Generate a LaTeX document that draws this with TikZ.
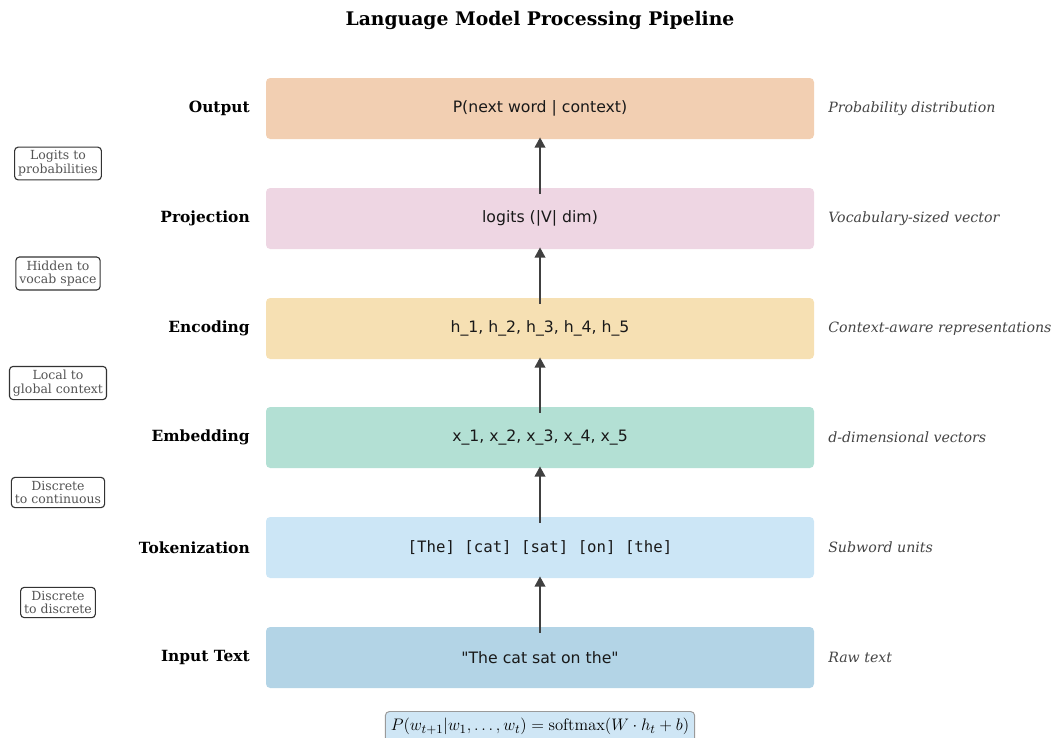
\documentclass[tikz,border=0pt]{standalone}
\usepackage[no-math]{fontspec}
\setmainfont{DejaVu Serif}
\setsansfont{DejaVu Sans}
\setmonofont{DejaVu Sans Mono}
\usetikzlibrary{arrows.meta,calc}

\definecolor{cOut}{HTML}{F2CFB2}
\definecolor{cProj}{HTML}{EED6E3}
\definecolor{cEnc}{HTML}{F6E0B3}
\definecolor{cEmb}{HTML}{B3E0D4}
\definecolor{cTok}{HTML}{CCE6F6}
\definecolor{cIn}{HTML}{B3D4E6}
\definecolor{cArrow}{HTML}{404040}
\definecolor{cDesc}{HTML}{444444}
\definecolor{cNote}{HTML}{555555}
\definecolor{cNoteEdge}{HTML}{333333}
\definecolor{cFormula}{HTML}{CFE6F5}
\definecolor{cFormulaEdge}{HTML}{9A9A9A}

\tikzset{
  stagebox/.style={rectangle, rounded corners=3pt, inner sep=0pt,
    minimum width=548*0.72pt, minimum height=61*0.72pt,
    font=\sffamily\fontsize{11.3}{13}\selectfont, text=black!90},
  stagelabel/.style={anchor=east, inner sep=0pt,
    font=\bfseries\fontsize{11.1}{13}\selectfont},
  stagedesc/.style={anchor=west, inner sep=0pt, text=cDesc,
    font=\itshape\fontsize{10.2}{12}\selectfont},
  flow/.style={draw=cArrow, line width=1.9pt,
    -{Stealth[length=7.5pt,width=7.5pt,inset=0pt]}},
  note/.style={draw=cNoteEdge, fill=white, rounded corners=2.5pt,
    line width=0.8pt, align=center, text=cNote,
    inner xsep=2.5pt, inner ysep=2.5pt,
    font=\fontsize{9}{10}\selectfont},
  formula/.style={draw=cFormulaEdge, fill=cFormula, rounded corners=3pt,
    line width=0.7pt, inner xsep=4pt, inner ysep=5pt,
    font=\fontsize{12.4}{14}\selectfont}
}

\begin{document}
\begin{tikzpicture}[x=0.72pt, y=-0.72pt]
  \useasboundingbox (0,0) rectangle (1051,737);
  \clip (0,0) rectangle (1051,737);

  % title
  \node[font=\bfseries\fontsize{13.5}{16}\selectfont] (title) at (540,20)
    {Language Model Processing Pipeline};

  % pipeline stages, bottom to top
  \node[stagebox, fill=cIn]   (input)  at (540,657.5) {\textquotedbl The cat sat on the\textquotedbl};
  \node[stagebox, fill=cTok]  (tok)    at (540,547.5) {\ttfamily [The] [cat] [sat] [on] [the]};
  \node[stagebox, fill=cEmb]  (emb)    at (540,437.5) {x\_1, x\_2, x\_3, x\_4, x\_5};
  \node[stagebox, fill=cEnc]  (enc)    at (540,328.5) {h\_1, h\_2, h\_3, h\_4, h\_5};
  \node[stagebox, fill=cProj] (proj)   at (540,218.5) {logits (|V| dim)};
  \node[stagebox, fill=cOut]  (out)    at (540,108.5) {P(next word | context)};

  % stage names
  \node[stagelabel] (lin)   at (250,657.5) {Input Text};
  \node[stagelabel] (ltok)  at (250,547.5) {Tokenization};
  \node[stagelabel] (lemb)  at (250,437.5) {Embedding};
  \node[stagelabel] (lenc)  at (250,328.5) {Encoding};
  \node[stagelabel] (lproj) at (250,218.5) {Projection};
  \node[stagelabel] (lout)  at (250,108.5) {Output};

  % stage descriptions
  \node[stagedesc] (din)   at (828,657.5) {Raw text};
  \node[stagedesc] (dtok)  at (828,547.5) {Subword units};
  \node[stagedesc] (demb)  at (828,437.5) {d-dimensional vectors};
  \node[stagedesc] (denc)  at (828,328.5) {Context-aware representations};
  \node[stagedesc] (dproj) at (828,218.5) {Vocabulary-sized vector};
  \node[stagedesc] (dout)  at (828,108.5) {Probability distribution};

  % flow between stages
  \draw[flow] ($(input.north)+(0,6)$) -- ($(tok.south)+(0,-2)$);
  \draw[flow] ($(tok.north)+(0,6)$)   -- ($(emb.south)+(0,-2)$);
  \draw[flow] ($(emb.north)+(0,6)$)   -- ($(enc.south)+(0,-2)$);
  \draw[flow] ($(enc.north)+(0,6)$)   -- ($(proj.south)+(0,-2)$);
  \draw[flow] ($(proj.north)+(0,6)$)  -- ($(out.south)+(0,-2)$);

  % transition notes
  \node[note] (n1) at (58,602.5) {Discrete\\to discrete};
  \node[note] (n2) at (58,492.5) {Discrete\\to continuous};
  \node[note] (n3) at (58,383)   {Local to\\global context};
  \node[note] (n4) at (58,273.5) {Hidden to\\vocab space};
  \node[note] (n5) at (58,163.5) {Logits to\\probabilities};

  % output formula
  \node[formula, anchor=north] (eq) at (540,711)
    {$P(w_{t+1}|w_1,\ldots,w_t) = \mathrm{softmax}(W\cdot h_t + b)$};
\end{tikzpicture}
\end{document}
